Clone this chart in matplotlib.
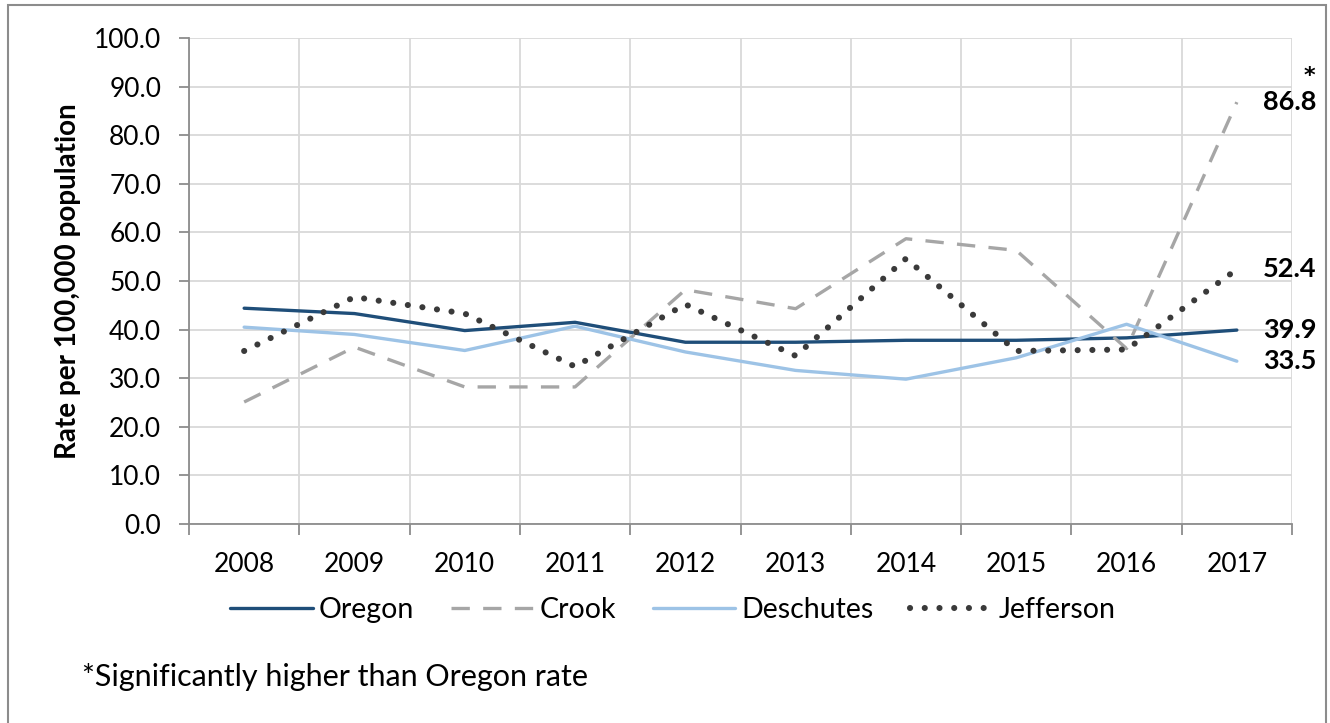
import matplotlib
matplotlib.use("Agg")
from matplotlib import pyplot as plt
from matplotlib.patches import Rectangle

plt.rcParams['font.family'] = ['Lato', 'DejaVu Sans']

years = ['2008', '2009', '2010', '2011', '2012', '2013', '2014', '2015', '2016', '2017']
oregon = [44.4, 43.3, 39.8, 41.5, 37.4, 37.4, 37.8, 37.8, 38.3, 39.9]
crook = [25.1, 36.4, 28.2, 28.2, 48.2, 44.3, 58.7, 56.3, 36.1, 86.8]
deschutes = [40.5, 39.0, 35.7, 40.7, 35.4, 31.6, 29.8, 34.2, 41.1, 33.5]
jefferson = [35.6, 46.7, 43.3, 32.4, 45.2, 34.6, 54.6, 35.6, 35.9, 52.4]

fig = plt.figure(figsize=(13.3, 7.23), dpi=100)
ax = fig.add_axes([189 / 1330, 1 - 524 / 723, (1292 - 189) / 1330, (524 - 38) / 723])

x = list(range(len(years)))
ax.plot(x, oregon, color='#1F4E79', lw=2.4, label='Oregon', solid_capstyle='round')
ax.plot(x, crook, color='#A6A6A6', lw=2.4, dashes=(5.5, 4), label='Crook')
ax.plot(x, deschutes, color='#9DC3E6', lw=2.4, label='Deschutes', solid_capstyle='round')
ax.plot(x, jefferson, color='#3A3A3A', lw=4.4, dashes=(0.01, 2.4),
        dash_capstyle='round', label='Jefferson')

ax.set_xlim(-0.5, len(years) - 0.5)
ax.set_ylim(0, 100)
ax.set_yticks(range(0, 101, 10))
ax.set_yticklabels([f'{v:.1f}' for v in range(0, 101, 10)])
ax.set_xticks(x)
ax.set_xticklabels(years)
ax.set_xticks([i - 0.5 for i in range(len(years) + 1)], minor=True)

ax.grid(True, axis='y', color='#D9D9D9', lw=1.3)
ax.grid(True, axis='x', which='minor', color='#D9D9D9', lw=1.3)
ax.set_axisbelow(True)
for s in ['top', 'right']:
    ax.spines[s].set_visible(False)
for s in ['left', 'bottom']:
    ax.spines[s].set_color('#8C8C8C')
    ax.spines[s].set_linewidth(1.3)

ax.tick_params(axis='y', length=7, color='#8C8C8C', width=1.3, pad=13, labelsize=19)
ax.tick_params(axis='x', which='major', length=0, pad=20, labelsize=19)
ax.tick_params(axis='x', which='minor', length=8, color='#8C8C8C', width=1.3)

ax.set_ylabel('Rate per 100,000 population', fontsize=20, fontweight='bold', labelpad=9)

for v in [crook[-1], jefferson[-1], oregon[-1], deschutes[-1]]:
    ax.annotate(f'{v:.1f}', xy=(x[-1], v), xytext=(26, 0), textcoords='offset pixels',
                va='center', ha='left', fontsize=19.5, fontweight='bold')
# asterisk marking the significant 2017 Crook rate
ax.annotate('*', xy=(x[-1], crook[-1]), xytext=(78, 16), textcoords='offset pixels',
            va='bottom', ha='right', fontsize=16, fontweight='bold', family='DejaVu Sans')

fig.legend(loc='center', bbox_to_anchor=(0.506, 1 - 610 / 723), ncol=4, frameon=False,
           fontsize=20.5, handlelength=2.9, handletextpad=0.2, columnspacing=1.3)

fig.text(82 / 1330, 1 - 677 / 723, '*Significantly higher than Oregon rate',
         fontsize=22, va='center', ha='left')

fig.add_artist(Rectangle((8 / 1330, -0.02), (1326 - 8) / 1330, 0.02 + 1 - 5 / 723,
                         transform=fig.transFigure, fill=False, edgecolor='#8C8C8C', lw=1.5))

fig.savefig('out.png', dpi=100)
